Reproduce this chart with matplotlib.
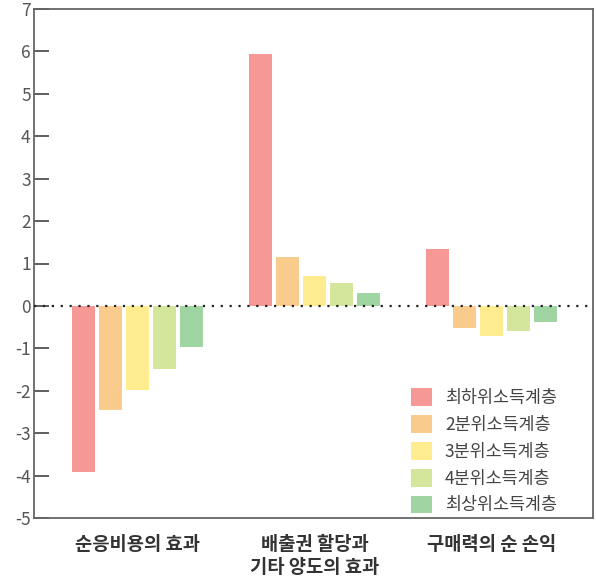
import matplotlib
matplotlib.use("Agg")
import matplotlib.pyplot as plt
from matplotlib.patches import Patch
import numpy as np

plt.rcParams['font.family'] = ['Noto Sans CJK KR', 'DejaVu Sans']
plt.rcParams['axes.unicode_minus'] = False

categories = ["순응비용의 효과", "배출권 할당과\n기타 양도의 효과", "구매력의 순 손익"]
series_names = ["최하위소득계층", "2분위소득계층", "3분위소득계층", "4분위소득계층", "최상위소득계층"]
values = {
    "최하위소득계층": [-3.92, 5.95, 1.34],
    "2분위소득계층": [-2.45, 1.16, -0.52],
    "3분위소득계층": [-1.98, 0.70, -0.70],
    "4분위소득계층": [-1.48, 0.54, -0.58],
    "최상위소득계층": [-0.98, 0.31, -0.38],
}
colors = ["#F59896", "#F9CB8D", "#FFEC8E", "#D4E69C", "#A0D5A3"]
yticks = list(range(-5, 8))

fig = plt.figure(figsize=(5.96, 5.77), dpi=100)
ax = fig.add_axes([33.5/596, 1-518/577, (593-33.5)/596, (518-9)/577])

x = np.arange(len(categories))
step = 0.1525
width = 0.13
for i, (name, c) in enumerate(zip(series_names, colors)):
    ax.bar(x + (i-2)*step, values[name], width=width, color=c, label=name, zorder=2)

ax.axhline(0, color="#222222", lw=1.6, ls=(0, (1, 3)), zorder=3)

ax.set_xlim(-0.5876, 2.573)
ax.set_ylim(-5, 7)
ax.set_yticks(yticks)
ax.set_yticklabels([str(t) for t in yticks], fontsize=12.5, color="#555555", fontweight='light')
ax.tick_params(axis='y', direction='in', length=11, width=1.1, color="#333333", pad=2)
ax.set_xticks([])
for s in ax.spines.values():
    s.set_color("#666666")
    s.set_linewidth(1.3)

for xi, lab in zip(x, categories):
    ax.text(xi, -5.4, lab, ha='center', va='top', fontsize=13.5, fontweight='bold',
            color="#333333", linespacing=1.25, transform=ax.transData, clip_on=False)

handles = [Patch(facecolor=c, edgecolor='none') for c in colors]
leg = fig.legend(handles, series_names, loc='upper left',
                 bbox_to_anchor=(411/596, 1-388/577), frameon=False,
                 fontsize=12.5, handlelength=1.2, handleheight=1.2,
                 labelspacing=0.47, handletextpad=0.75, borderpad=0, borderaxespad=0)
for t in leg.get_texts():
    t.set_color("#444444")

fig.savefig("out.png", dpi=100)
